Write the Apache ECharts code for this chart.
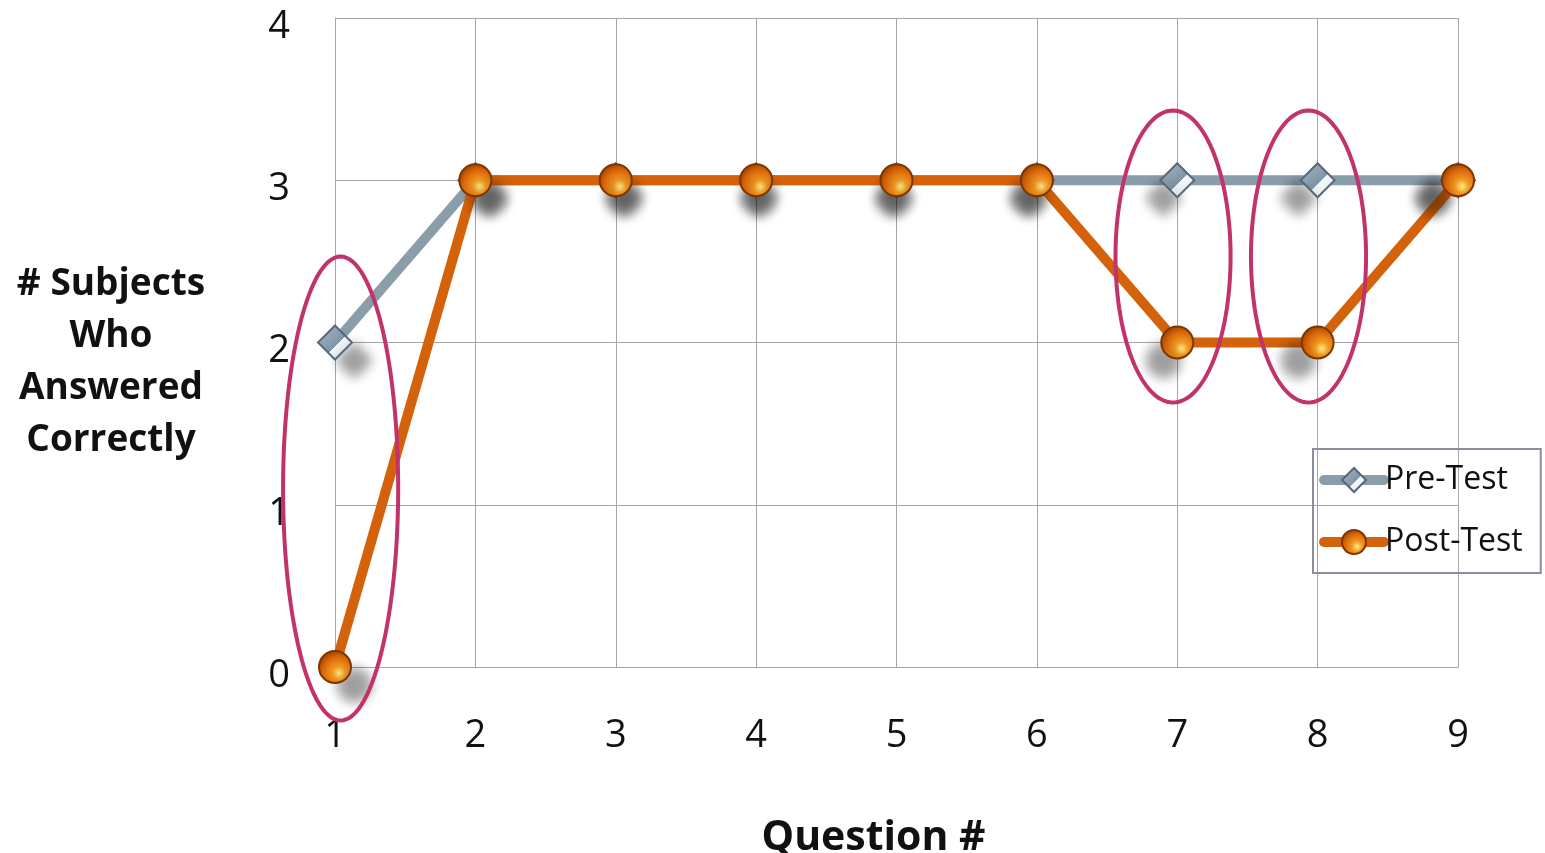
<!DOCTYPE html>
<html>
<head>
<meta charset="utf-8">
<script src="https://cdn.jsdelivr.net/npm/echarts@6/dist/echarts.min.js"></script>
<style>html,body{margin:0;padding:0;background:#fff}#c{width:1545px;height:853px}</style>
</head>
<body>
<div id="c"></div>
<script>
const categories = ['1','2','3','4','5','6','7','8','9'];
const preTest = [2,3,3,3,3,3,3,3,3];
const postTest = [0,3,3,3,3,3,2,2,3];
const yTicks = [0,1,2,3,4];
const yTitle = '# Subjects\nWho\nAnswered\nCorrectly';
const xTitle = 'Question #';
// highlighted questions: category index, y centre, y half-extent (data units)
const highlightIndex = [0, 6, 7];
const highlightYCenter = [1.1, 2.53, 2.53];
const highlightYHalf = [1.43, 0.9, 0.9];

const FONT = '"Open Sans", "Noto Sans", sans-serif';
const chart = echarts.init(document.getElementById('c'));

const orangeFill = {type:'radial', x:0.62, y:0.68, r:0.65, colorStops:[
  {offset:0, color:'#fff08a'},{offset:0.3, color:'#f59a22'},{offset:0.75, color:'#d9650a'},{offset:1, color:'#a84a00'}]};
const greyFill = {type:'linear', x:0, y:0, x2:1, y2:1, colorStops:[
  {offset:0, color:'#a9bac7'},{offset:0.55, color:'#7f95a6'},{offset:0.56, color:'#f4f8fb'},{offset:1, color:'#dbe5ec'}]};

function withShadow(values) {
  return values.map((v, i) => ({
    value: v,
    itemStyle: {shadowColor:'rgba(0,0,0,0.38)', shadowBlur:12,
      shadowOffsetX:(3.5 - i) * 5.5, shadowOffsetY:18}
  }));
}

chart.setOption({
  animation:false,
  title:{
    text:yTitle, left:106, top:253, textAlign:'center',
    textStyle:{fontFamily:FONT, fontSize:37, fontWeight:'bold', color:'#111', lineHeight:52, align:'center'}
  },
  grid:{left:335, top:18, right:87, bottom:186, containLabel:false, outerBoundsMode:'none'},
  legend:{
    orient:'vertical', left:1313, top:449,
    data:['Pre-Test','Post-Test'],
    borderColor:'#8c8c9c', borderWidth:2,
    padding:[15,18,15,6],
    itemWidth:60, itemHeight:30, itemGap:30,
    lineStyle:{width:10, cap:'round'},
    textStyle:{fontFamily:FONT, fontSize:32, color:'#111', padding:[0,0,0,-4]}
  },
  xAxis:{
    type:'category', data:categories, boundaryGap:false,
    name:xTitle, nameLocation:'middle', nameGap:151,
    nameTextStyle:{fontFamily:FONT, fontSize:41, fontWeight:'bold', color:'#111', padding:[0,46,0,0]},
    axisLine:{lineStyle:{color:'#a6a6a6', width:1}},
    axisTick:{show:false},
    axisLabel:{margin:50, fontFamily:FONT, fontSize:38, color:'#111'},
    splitLine:{show:true, lineStyle:{color:'#a6a6a6', width:1}}
  },
  yAxis:{
    type:'value', min:yTicks[0], max:yTicks[yTicks.length-1], interval:1,
    axisLine:{show:true, lineStyle:{color:'#a6a6a6', width:1}},
    axisTick:{show:false},
    axisLabel:{margin:45, fontFamily:FONT, fontSize:38, color:'#111', verticalAlign:'top', lineHeight:18},
    splitLine:{show:true, lineStyle:{color:'#a6a6a6', width:1}}
  },
  series:[
    {
      name:'Pre-Test', type:'line', data:withShadow(preTest),
      symbol:'diamond', symbolSize:34,
      lineStyle:{color:'#8a9daa', width:10},
      itemStyle:{color:greyFill, borderColor:'#56687a', borderWidth:2},
      z:2
    },
    {
      name:'Post-Test', type:'line', data:withShadow(postTest),
      symbol:'circle', symbolSize:32,
      lineStyle:{color:'#d4620a', width:10},
      itemStyle:{color:orangeFill, borderColor:'#7e3600', borderWidth:2},
      z:3
    },
    {
      name:'highlight', type:'custom', clip:false, silent:true, z:5,
      data: highlightIndex.map((q,k)=>[q, highlightYCenter[k], highlightYHalf[k]]),
      encode:{x:0, y:1},
      renderItem:function(params, api){
        const q = api.value(0);
        const c = api.coord([q, api.value(1)]);
        const step = api.coord([1,0])[0] - api.coord([0,0])[0];
        const unit = api.coord([0,0])[1] - api.coord([0,1])[1];
        const ry = api.value(2) * unit;
        const rx = step * 0.41;
        const cx = c[0] + (q === 0 ? 0.04 : (q === 6 ? -0.03 : -0.065)) * step;
        const pts = [];
        for (let t = 0; t < 120; t++) {
          const a = t / 120 * Math.PI * 2;
          pts.push([cx + rx * Math.cos(a), c[1] + ry * Math.sin(a)]);
        }
        return {type:'polygon', shape:{points:pts},
          style:{fill:'none', stroke:'#c2336b', lineWidth:4}};
      }
    }
  ]
});
</script>
</body>
</html>
